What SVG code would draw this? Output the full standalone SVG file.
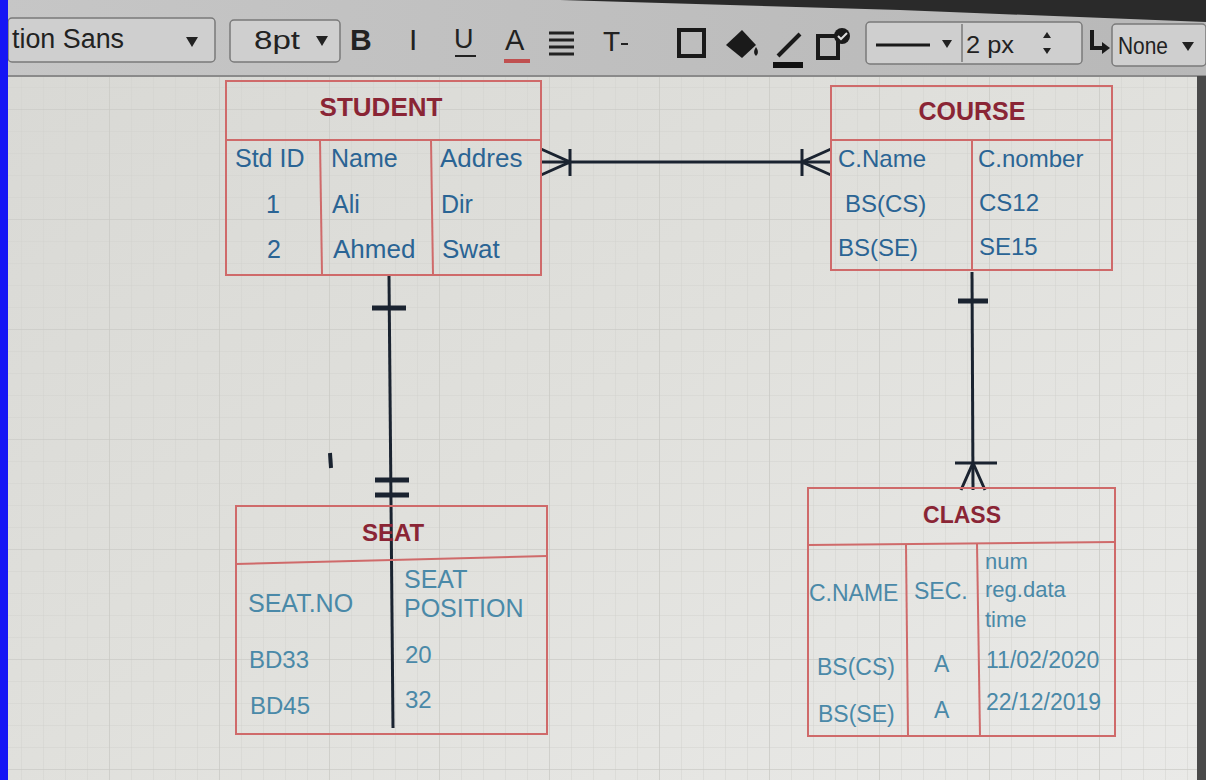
<svg xmlns="http://www.w3.org/2000/svg" width="1206" height="780" viewBox="0 0 1206 780">
<defs>
<pattern id="grid" width="22" height="22" patternUnits="userSpaceOnUse">
<path d="M22 0V22M0 22H22" fill="none" stroke="#d2d2ce" stroke-width="1"/>
</pattern>
<pattern id="gridM" width="110" height="110" patternUnits="userSpaceOnUse">
<path d="M110 0V110M0 110H110" fill="none" stroke="#c8c8c4" stroke-width="1.2"/>
</pattern>
<linearGradient id="bg" x1="0" y1="0" x2="1" y2="1">
<stop offset="0" stop-color="#d8d8d4"/>
<stop offset="0.5" stop-color="#e0e0dc"/>
<stop offset="1" stop-color="#eaeae8"/>
</linearGradient>
<linearGradient id="tb" x1="0" y1="0" x2="1" y2="0">
<stop offset="0" stop-color="#c6c6c6"/>
<stop offset="1" stop-color="#b8b8b8"/>
</linearGradient>
</defs>
<style>
.box{fill:none;stroke:#cf6a6a;stroke-width:2}
.hd{font-family:"Liberation Sans",Arial,sans-serif;font-weight:bold;fill:#8a2535;text-anchor:middle}
.tx{font-family:"Liberation Sans",Arial,sans-serif;fill:#2a6494}
.tl{font-family:"Liberation Sans",Arial,sans-serif;fill:#4a89a8}
.cn{fill:none;stroke:#1a2330;stroke-width:3}
.ck{fill:none;stroke:#1a2330;stroke-width:5}
.tbx{fill:#cfcfcf;stroke:#7a7a7a;stroke-width:1.5}
.tbt{font-family:"Liberation Sans",Arial,sans-serif;fill:#222}
.ic{fill:none;stroke:#1a1a1a;stroke-width:4}
</style>
<rect width="1206" height="780" fill="url(#bg)"/>
<rect width="1206" height="780" fill="url(#grid)"/>
<rect width="1206" height="780" fill="url(#gridM)"/>

<g id="toolbar">
<rect x="0" y="0" width="1206" height="76" fill="url(#tb)"/>
<polygon points="560,0 1206,0 1206,22 900,10" fill="#2a2a2a"/>
<line x1="0" y1="76" x2="1206" y2="76" stroke="#8a8a8a" stroke-width="2"/>
<rect class="tbx" x="8" y="18" width="207" height="44" rx="4"/>
<text class="tbt" x="12" y="48" font-size="27" textLength="112" lengthAdjust="spacingAndGlyphs">tion Sans</text>
<polygon points="186,37 198,37 192,47" fill="#222"/>
<rect class="tbx" x="230" y="20" width="110" height="42" rx="4"/>
<text class="tbt" x="254" y="49" font-size="26" textLength="46" lengthAdjust="spacingAndGlyphs">8pt</text>
<polygon points="316,36 328,36 322,46" fill="#222"/>
<text class="tbt" x="350" y="50" font-size="30" font-weight="bold">B</text>
<text class="tbt" x="409" y="50" font-size="30" font-family="Liberation Serif">I</text>
<text class="tbt" x="454" y="48" font-size="27">U</text>
<line x1="455" y1="56" x2="476" y2="56" stroke="#222" stroke-width="2"/>
<text class="tbt" x="505" y="50" font-size="29">A</text>
<rect x="504" y="59" width="26" height="4" fill="#c05050"/>
<path d="M549 33H574M549 40H574M549 47H574M549 54H574" stroke="#222" stroke-width="3"/>
<text class="tbt" x="603" y="51" font-size="28" font-family="Liberation Serif">T</text>
<line x1="621" y1="44" x2="628" y2="44" stroke="#222" stroke-width="2"/>
<rect class="ic" x="679" y="30" width="25" height="26"/>
<path d="M726 45L742 30L756 45L742 58Z" fill="#1a1a1a"/>
<path d="M756 47q4 6 0 9q-4-3 0-9" fill="#1a1a1a"/>
<path d="M778 56L800 34" stroke="#1a1a1a" stroke-width="4"/>
<rect x="773" y="62" width="30" height="6" fill="#111"/>
<rect class="ic" x="818" y="36" width="20" height="22" stroke-width="3"/>
<circle cx="842" cy="36" r="8" fill="#1a1a1a"/>
<path d="M838 36l3 3l6-6" stroke="#ddd" stroke-width="2" fill="none"/>
<rect class="tbx" x="866" y="22" width="216" height="42" rx="4"/>
<line x1="962" y1="24" x2="962" y2="62" stroke="#7a7a7a" stroke-width="1.5"/>
<line x1="876" y1="45" x2="930" y2="45" stroke="#1a1a1a" stroke-width="3"/>
<polygon points="942,40 952,40 947,48" fill="#222"/>
<text class="tbt" x="966" y="53" font-size="24" textLength="48" lengthAdjust="spacingAndGlyphs">2 px</text>
<polygon points="1043,38 1051,38 1047,32" fill="#222"/>
<polygon points="1043,48 1051,48 1047,54" fill="#222"/>
<path d="M1092 30V48H1104" fill="none" stroke="#1a1a1a" stroke-width="4"/>
<polygon points="1102,42 1110,48 1102,54" fill="#1a1a1a"/>
<rect class="tbx" x="1112" y="24" width="94" height="42" rx="4"/>
<text class="tbt" x="1118" y="54" font-size="24" textLength="50" lengthAdjust="spacingAndGlyphs">None</text>
<polygon points="1182,42 1194,42 1188,51" fill="#222"/>
</g>

<rect x="0" y="0" width="8" height="780" fill="#1515f5"/>
<rect x="1197" y="76" width="9" height="704" fill="#4a4a4a"/>

<g id="connectors">
<line class="cn" x1="541" y1="162" x2="831" y2="162"/>
<path class="cn" d="M541 149L570 162L541 175M570 149V176"/>
<path class="cn" d="M831 149L802 162L831 175M802 149V176"/>
<line class="cn" x1="389" y1="276" x2="393" y2="728"/>
<line class="ck" x1="372" y1="308" x2="406" y2="308"/>
<line class="ck" x1="375" y1="480" x2="409" y2="480"/>
<line class="ck" x1="375" y1="495" x2="409" y2="495"/>
<line x1="330" y1="453" x2="331" y2="468" stroke="#1a2330" stroke-width="4"/>
<line class="cn" x1="972" y1="272" x2="973" y2="490"/>
<line class="ck" x1="958" y1="301" x2="988" y2="301"/>
<line class="cn" x1="955" y1="463" x2="997" y2="463" stroke-width="4"/>
<path class="cn" d="M961 490L973 463L985 490"/>
</g>

<g id="student">
<rect class="box" x="226" y="81" width="315" height="194"/>
<line class="box" x1="226" y1="140" x2="541" y2="140"/>
<line class="box" x1="320" y1="140" x2="322" y2="275"/>
<line class="box" x1="431" y1="140" x2="433" y2="275"/>
<text class="hd" x="381" y="116" font-size="26">STUDENT</text>
<text class="tx" x="235" y="167" font-size="25">Std ID</text>
<text class="tx" x="331" y="167" font-size="25">Name</text>
<text class="tx" x="440" y="167" font-size="26">Addres</text>
<text class="tx" x="266" y="213" font-size="25">1</text>
<text class="tx" x="332" y="213" font-size="25">Ali</text>
<text class="tx" x="441" y="213" font-size="25">Dir</text>
<text class="tx" x="267" y="258" font-size="25">2</text>
<text class="tx" x="333" y="258" font-size="26">Ahmed</text>
<text class="tx" x="442" y="258" font-size="26">Swat</text>
</g>

<g id="course">
<rect class="box" x="831" y="86" width="281" height="184"/>
<line class="box" x1="831" y1="140" x2="1112" y2="140"/>
<line class="box" x1="972" y1="140" x2="972" y2="270"/>
<text class="hd" x="972" y="120" font-size="25">COURSE</text>
<text class="tx" x="838" y="167" font-size="24">C.Name</text>
<text class="tx" x="978" y="167" font-size="24">C.nomber</text>
<text class="tx" x="845" y="212" font-size="24">BS(CS)</text>
<text class="tx" x="979" y="211" font-size="24">CS12</text>
<text class="tx" x="838" y="256" font-size="24">BS(SE)</text>
<text class="tx" x="979" y="255" font-size="24">SE15</text>
</g>

<g id="seat">
<rect class="box" x="236" y="506" width="311" height="228" stroke="#d39090"/>
<line class="box" x1="236" y1="564" x2="547" y2="556" stroke="#d39090"/>
<text class="hd" x="393" y="541" font-size="24" fill="#a04a55" font-weight="normal">SEAT</text>
<text class="tl" x="248" y="612" font-size="25">SEAT.NO</text>
<text class="tl" x="404" y="588" font-size="25">SEAT</text>
<text class="tl" x="404" y="617" font-size="25">POSITION</text>
<text class="tl" x="249" y="668" font-size="24">BD33</text>
<text class="tl" x="405" y="663" font-size="24">20</text>
<text class="tl" x="250" y="714" font-size="24">BD45</text>
<text class="tl" x="405" y="708" font-size="24">32</text>
</g>

<g id="class">
<rect class="box" x="808" y="488" width="307" height="248" stroke="#d39090"/>
<line class="box" x1="808" y1="545" x2="1115" y2="542" stroke="#d39090"/>
<line class="box" x1="906" y1="545" x2="908" y2="736" stroke="#d39090"/>
<line class="box" x1="977" y1="543" x2="980" y2="736" stroke="#d39090"/>
<text class="hd" x="962" y="523" font-size="23" fill="#a04a55">CLASS</text>
<text class="tl" x="809" y="601" font-size="23">C.NAME</text>
<text class="tl" x="914" y="599" font-size="23">SEC.</text>
<text class="tl" x="985" y="569" font-size="22">num</text>
<text class="tl" x="985" y="597" font-size="22">reg.data</text>
<text class="tl" x="985" y="627" font-size="22">time</text>
<text class="tl" x="817" y="675" font-size="23">BS(CS)</text>
<text class="tl" x="934" y="672" font-size="23">A</text>
<text class="tl" x="986" y="668" font-size="23">11/02/2020</text>
<text class="tl" x="818" y="722" font-size="23">BS(SE)</text>
<text class="tl" x="934" y="718" font-size="23">A</text>
<text class="tl" x="986" y="710" font-size="23">22/12/2019</text>
</g>
</svg>
